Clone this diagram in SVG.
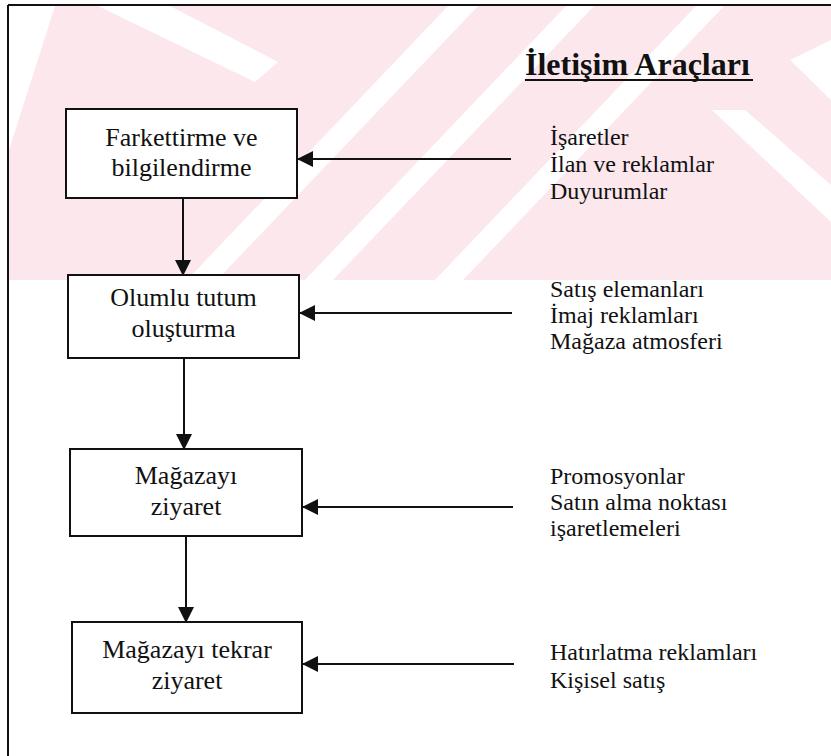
<svg xmlns="http://www.w3.org/2000/svg" width="831" height="756" viewBox="0 0 831 756">
<style>
.box{fill:#fff;stroke:#111;stroke-width:2}
.bt{font-family:"Liberation Serif","Times New Roman",serif;font-size:26px;fill:#111;text-anchor:middle}
.rt{font-family:"Liberation Serif","Times New Roman",serif;font-size:24px;fill:#111}
.ttl{font-family:"Liberation Serif","Times New Roman",serif;font-size:32px;font-weight:bold;fill:#111}
.ln{stroke:#111;stroke-width:2;fill:none}
.wm{fill:#fce8ec}
.wh{fill:#fff}
</style>
<defs>
<marker id="ah" viewBox="0 0 16 16" refX="15" refY="8" markerWidth="16" markerHeight="16" markerUnits="userSpaceOnUse" orient="auto">
<path d="M0,0 L16,8 L0,16 Z" fill="#111"/>
</marker>
</defs>
<g id="watermark">
<rect class="wm" x="9" y="6" width="822" height="274"/>
<polygon class="wh" points="9,6 55,6 9,150"/>
<polygon class="wh" points="98,6 170,6 278,62 255,82"/>
<polygon class="wh" points="448,6 478,6 217,280 187,280"/>
<polygon class="wh" points="566,6 594,6 333,280 305,280"/>
<polygon class="wh" points="696,6 724,6 463,280 435,280"/>
<polygon class="wh" points="712,110 745,110 831,185 831,222"/>
<polygon class="wh" points="790,60 831,40 831,100"/>
</g>
<g id="frame">
<line class="ln" x1="8" y1="5" x2="831" y2="5"/>
<line class="ln" x1="8" y1="5" x2="8" y2="756"/>
</g>
<g id="title">
<text class="ttl" x="525" y="75">İletişim Araçları</text>
<line x1="525" y1="80" x2="753" y2="80" stroke="#111" stroke-width="2"/>
</g>
<g id="connectors">
<line class="ln" x1="183" y1="198" x2="183" y2="275" marker-end="url(#ah)"/>
<line class="ln" x1="184" y1="358" x2="184" y2="449" marker-end="url(#ah)"/>
<line class="ln" x1="186" y1="536" x2="186" y2="622" marker-end="url(#ah)"/>
<line class="ln" x1="511" y1="159" x2="298" y2="159" marker-end="url(#ah)"/>
<line class="ln" x1="512" y1="313" x2="300" y2="313" marker-end="url(#ah)"/>
<line class="ln" x1="513" y1="507" x2="303" y2="507" marker-end="url(#ah)"/>
<line class="ln" x1="514" y1="664" x2="303" y2="664" marker-end="url(#ah)"/>
</g>
<g id="n1">
<rect class="box" x="66" y="109" width="231" height="89"/>
<text class="bt" x="181.5" y="146">Farkettirme ve</text>
<text class="bt" x="181.5" y="176">bilgilendirme</text>
</g>
<g id="n2">
<rect class="box" x="68" y="275" width="231" height="83"/>
<text class="bt" x="183.5" y="306">Olumlu tutum</text>
<text class="bt" x="183.5" y="337">oluşturma</text>
</g>
<g id="n3">
<rect class="box" x="70" y="449" width="232" height="87"/>
<text class="bt" x="186" y="484">Mağazayı</text>
<text class="bt" x="186" y="515">ziyaret</text>
</g>
<g id="n4">
<rect class="box" x="72" y="622" width="230" height="91"/>
<text class="bt" x="187" y="658">Mağazayı tekrar</text>
<text class="bt" x="187" y="689">ziyaret</text>
</g>
<g id="t1">
<text class="rt" x="550" y="145">İşaretler</text>
<text class="rt" x="550" y="172">İlan ve reklamlar</text>
<text class="rt" x="550" y="199">Duyurumlar</text>
</g>
<g id="t2">
<text class="rt" x="550" y="297">Satış elemanları</text>
<text class="rt" x="550" y="323">İmaj reklamları</text>
<text class="rt" x="550" y="349">Mağaza atmosferi</text>
</g>
<g id="t3">
<text class="rt" x="550" y="484">Promosyonlar</text>
<text class="rt" x="550" y="510">Satın alma noktası</text>
<text class="rt" x="550" y="536">işaretlemeleri</text>
</g>
<g id="t4">
<text class="rt" x="550" y="660">Hatırlatma reklamları</text>
<text class="rt" x="550" y="688">Kişisel satış</text>
</g>
</svg>
